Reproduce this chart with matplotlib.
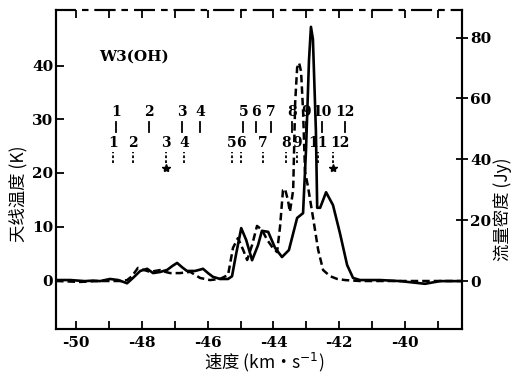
import matplotlib
matplotlib.use("Agg")
import matplotlib.pyplot as plt

plt.rcParams['font.family'] = ['DejaVu Serif', 'Noto Sans CJK SC']

# Solid curve: antenna temperature (K) vs velocity (km/s)
solid_v = [-50.61, -50.18, -49.73, -49.48, -49.27, -48.97, -48.72, -48.45, -48.27, -48.05,
           -47.84, -47.66, -47.45, -47.23, -47.08, -46.93, -46.78, -46.63, -46.38, -46.14,
           -45.99, -45.84, -45.62, -45.38, -45.26, -45.14, -44.98, -44.83, -44.65, -44.47,
           -44.35, -44.16, -43.95, -43.74, -43.53, -43.28, -43.10, -43.01, -42.92, -42.86,
           -42.80, -42.71, -42.67, -42.58, -42.40, -42.19, -41.98, -41.76, -41.58, -41.37,
           -40.76, -40.15, -39.39, -38.94, -38.27]
solid_T = [0, 0, -0.2, -0.1, -0.2, 0.2, 0, -0.6, 0.4, 1.7,
           2.1, 1.3, 1.5, 1.9, 2.6, 3.2, 2.4, 1.7, 1.7, 2.1,
           1.3, 0.6, 0.2, 0.2, 0.7, 4.7, 9.7, 7.5, 3.7, 6.5,
           9.2, 9.0, 6.0, 4.3, 5.6, 11.6, 12.5, 24.3, 41.0, 47.3,
           45.0, 28.0, 13.5, 13.5, 16.4, 14.0, 8.8, 2.8, 0.4, 0,
           0, -0.2, -0.7, -0.2, -0.2]

# Dashed curve: flux density (Jy) vs velocity (km/s)
dash_v = [-50.61, -49.88, -49.27, -48.66, -48.45, -48.30, -48.12, -47.93, -47.75, -47.60,
          -47.45, -47.29, -47.14, -46.84, -46.53, -46.38, -46.23, -45.93, -45.62, -45.38,
          -45.23, -45.08, -44.92, -44.80, -44.65, -44.50, -44.35, -44.19, -44.04, -43.89,
          -43.80, -43.71, -43.65, -43.56, -43.50, -43.40, -43.34, -43.28, -43.22, -43.16,
          -43.10, -43.04, -42.95, -42.80, -42.64, -42.49, -42.28, -42.07, -41.82, -41.37,
          -40.15, -38.27]
dash_S = [0, -0.3, 0, 0, 0.3, 1.6, 4.3, 3.6, 3.0, 3.3,
          3.6, 3.0, 2.6, 2.6, 3.0, 2.0, 1.0, 0.3, 0.7, 2.0,
          10.9, 14.1, 10.2, 6.9, 11.8, 18.1, 16.8, 13.5, 11.2, 9.5,
          17.8, 29.9, 30.3, 26.6, 22.7, 29.9, 58.6, 70.1, 71.7, 68.8,
          56.0, 36.0, 31.0, 21.1, 10.2, 3.6, 1.6, 0.7, 0.3, 0,
          0, 0]

# Component markers
upper_labels = ['1', '2', '3', '4', '5', '6', '7', '8', '9', '10', '12']
upper_v = [-48.78, -47.78, -46.78, -46.23, -44.92, -44.53, -44.07, -43.43, -43.01, -42.52, -41.82]
lower_labels = ['1', '2', '3', '4', '5', '6', '7', '8', '9', '11', '12']
lower_v = [-48.88, -48.27, -47.26, -46.72, -45.26, -44.98, -44.32, -43.62, -43.28, -42.64, -42.19]
star_v = [-47.26, -42.19]

xticks_major = [-50, -48, -46, -44, -42, -40]
xticks_minor = list(range(-50, -38))
yticks_left = [0, 10, 20, 30, 40]
yticks_right = [0, 20, 40, 60, 80]

fig = plt.figure(figsize=(5.19, 3.80), dpi=100)
ax = fig.add_axes([0.108, 0.134, 0.782, 0.840])
ax2 = ax.twinx()

ax.set_xlim(-50.61, -38.27)
ax.set_ylim(-9.16, 50.47)
ax2.set_ylim(-15.8, 89.1)

ax.plot(solid_v, solid_T, color='black', lw=1.9, solid_joinstyle='round')
ax2.plot(dash_v, dash_S, color='black', lw=1.8, linestyle=(0, (3.0, 1.6)))

tickfont = dict(fontsize=11, fontweight='bold', family='DejaVu Serif')
ax.set_xticks(xticks_minor, minor=True)
ax.set_xticks(xticks_major)
ax.set_xticklabels([str(t) for t in xticks_major], **tickfont)
ax.set_yticks(yticks_left)
ax.set_yticklabels([str(t) for t in yticks_left], **tickfont)
ax2.set_yticks(yticks_right)
ax2.set_yticklabels([str(t) for t in yticks_right], **tickfont)
ax.tick_params(axis='x', which='both', direction='in', top=True, length=6, width=1.3, pad=5)
ax.tick_params(axis='y', direction='in', length=6, width=1.3, pad=2)
ax2.tick_params(axis='y', direction='inout', length=8, width=1.3, pad=2)

for a in (ax, ax2):
    for s in a.spines.values():
        s.set_linewidth(1.5)
ax2.spines['top'].set_linestyle((0, (9, 4, 2, 4)))
ax.spines['top'].set_linestyle((0, (9, 4, 2, 4)))

# Component markers
for lab, v in zip(upper_labels, upper_v):
    ax.text(v, 31.4, lab, ha='center', va='center', fontsize=10, fontweight='bold')
    ax.plot([v, v], [27.7, 29.6], color='black', lw=1.3)
for i, (lab, v) in enumerate(zip(lower_labels, lower_v)):
    dx = 0.2 if i == len(lower_labels) - 1 else 0.0
    ax.text(v + dx, 25.6, lab, ha='center', va='center', fontsize=10, fontweight='bold')
    ax.plot([v, v], [21.9, 24.0], color='black', lw=1.3, linestyle=(0, (1.5, 1.2)))
ax.plot(star_v, [21.0] * len(star_v), linestyle='none', marker='*', color='black', ms=6)

ax.text(-49.3, 41.8, 'W3(OH)', fontsize=11, fontweight='bold', ha='left', va='center')

fig.text(0.035, 0.49, '天线温度 (K)', rotation=90, ha='center', va='center',
         fontsize=12.5, family=['Noto Sans CJK SC', 'DejaVu Serif'])
fig.text(0.968, 0.45, '流量密度 (Jy)', rotation=90, ha='center', va='center',
         fontsize=12.5, family=['Noto Sans CJK SC', 'DejaVu Serif'])
fig.text(0.51, 0.045, '速度 (km·s$^{-1}$)', ha='center', va='center',
         fontsize=12.5, family=['Noto Sans CJK SC', 'DejaVu Serif'])

fig.savefig('out.png', dpi=100)
